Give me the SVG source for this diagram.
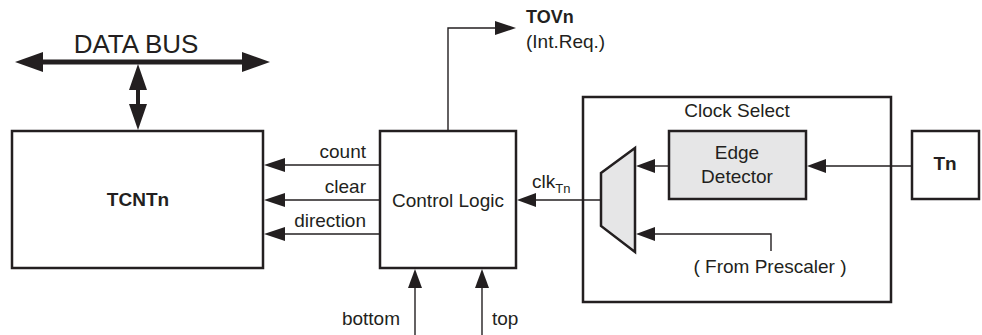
<svg xmlns="http://www.w3.org/2000/svg" width="982" height="335" viewBox="0 0 982 335">
<defs>
<style>
text{font-family:"Liberation Sans",Arial,sans-serif;font-size:19px;fill:#231f20}
.b{font-weight:bold}
.box{fill:#fff;stroke:#231f20;stroke-width:2.5}
.gray{fill:#e6e6e7;stroke:#231f20;stroke-width:2.5}
.ln{fill:none;stroke:#231f20;stroke-width:1.4}
.ah{fill:#231f20;stroke:none}
</style>
</defs>
<rect width="982" height="335" fill="#fff"/>
<g id="databus-label">
<text x="136" y="53" text-anchor="middle" style="font-size:26px">DATA BUS</text>
</g>
<g id="tcntn">
<rect class="box" x="12" y="131" width="251" height="137"/>
<text class="b" x="138" y="206" text-anchor="middle">TCNTn</text>
</g>
<g id="control-logic">
<rect class="box" x="380" y="131" width="136" height="137"/>
<text x="448" y="207" text-anchor="middle">Control Logic</text>
</g>
<g id="labels">
<text x="366" y="158" text-anchor="end">count</text>
<text x="366" y="193" text-anchor="end">clear</text>
<text x="366" y="227" text-anchor="end">direction</text>
<text class="b" x="526" y="23" style="font-size:18px">TOVn</text>
<text x="526" y="48">(Int.Req.)</text>
<text x="532" y="188">clk<tspan dy="5" style="font-size:13px">Tn</tspan></text>
<text x="400" y="325" text-anchor="end">bottom</text>
<text x="492" y="325">top</text>
</g>
<g id="clock-select">
<rect class="box" x="583" y="97" width="308" height="205"/>
<text x="737" y="117" text-anchor="middle">Clock Select</text>
<text x="770" y="273" text-anchor="middle">( From Prescaler )</text>
</g>
<g id="edge-detector">
<rect class="gray" x="669" y="131" width="137" height="68"/>
<text x="737" y="159" text-anchor="middle">Edge</text>
<text x="737" y="183" text-anchor="middle">Detector</text>
</g>
<g id="mux">
<polygon class="gray" points="601,173 635,148 635,252 601,226"/>
</g>
<g id="tn">
<rect class="box" x="912" y="131" width="67" height="68"/>
<text class="b" x="945" y="170" text-anchor="middle">Tn</text>
</g>
<g id="connectors">
<!-- data bus -->
<line x1="40" y1="62" x2="246" y2="62" stroke="#231f20" stroke-width="5"/>
<polygon class="ah" points="15,62 43,52 43,72"/>
<polygon class="ah" points="270,62 242,52 242,72"/>
<line x1="138" y1="85" x2="138" y2="110" stroke="#231f20" stroke-width="4"/>
<polygon class="ah" points="138,64 129,90 147,90"/>
<polygon class="ah" points="138,130 129,104 147,104"/>
<!-- count / clear / direction -->
<line class="ln" x1="379" y1="165" x2="282" y2="165"/>
<polygon class="ah" points="264,165 285,158 285,172"/>
<line class="ln" x1="379" y1="200" x2="282" y2="200"/>
<polygon class="ah" points="264,200 285,193 285,207"/>
<line class="ln" x1="379" y1="234" x2="282" y2="234"/>
<polygon class="ah" points="264,234 285,227 285,241"/>
<!-- TOVn -->
<polyline class="ln" points="448,130 448,28 498,28"/>
<polygon class="ah" points="516,28 495,21 495,35"/>
<!-- clk Tn -->
<line class="ln" x1="601" y1="200" x2="533" y2="200"/>
<polygon class="ah" points="517,200 536,193 536,207"/>
<!-- bottom / top -->
<line class="ln" x1="415" y1="335" x2="415" y2="284"/>
<polygon class="ah" points="415,269 408,288 422,288"/>
<line class="ln" x1="482" y1="335" x2="482" y2="284"/>
<polygon class="ah" points="482,269 475,288 489,288"/>
<!-- Tn to edge detector -->
<line class="ln" x1="911" y1="166" x2="822" y2="166"/>
<polygon class="ah" points="807,166 826,159 826,173"/>
<!-- edge detector to mux -->
<line class="ln" x1="668" y1="166" x2="650" y2="166"/>
<polygon class="ah" points="636,166 655,159 655,173"/>
<!-- prescaler to mux -->
<polyline class="ln" points="771,251 771,234 650,234"/>
<polygon class="ah" points="636,234 655,227 655,241"/>
</g>
</svg>
